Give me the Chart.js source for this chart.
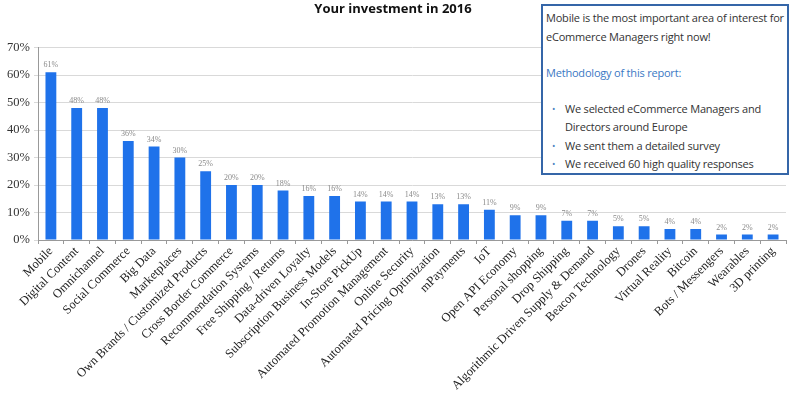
<!DOCTYPE html>
<html>
<head>
<meta charset="utf-8">
<script src="https://cdn.jsdelivr.net/npm/chart.js@4"></script>
<style>
  html, body { margin: 0; padding: 0; background: #fff; }
  #wrap { position: relative; width: 795px; height: 396px; }
  #note {
    position: absolute; left: 541px; top: 4px; width: 248px; height: 171px;
    border: 2px solid #3566a8; background: #fff;
    font-family: "Open Sans", sans-serif; font-size: 11px; color: #333;
    line-height: 18.5px; padding: 3px 0 0 3px; box-sizing: border-box;
    white-space: nowrap; letter-spacing: -0.2px;
  }
  #note .blue { color: #3a78c4; margin-top: 18px; }
  #note ul { margin: 17px 0 0 0; padding: 0 0 0 19px; list-style: none; }
  #note li { position: relative; }
  #note li:before { content: "\2022"; position: absolute; left: -13px; color: #4a7fc0; font-size: 9px; }
</style>
</head>
<body>
<div id="wrap">
  <canvas id="chart" width="795" height="396"></canvas>
  <div id="note">
    <div>Mobile is the most important area of interest for<br>eCommerce Managers right now!</div>
    <div class="blue">Methodology of this report:</div>
    <ul>
      <li>We selected eCommerce Managers and<br>Directors around Europe</li>
      <li>We sent them a detailed survey</li>
      <li>We received 60 high quality responses</li>
    </ul>
  </div>
</div>
<script>
const categories = ['Mobile', 'Digital Content', 'Omnichannel', 'Social Commerce', 'Big Data', 'Marketplaces',
  'Own Brands / Customized Products', 'Cross Border Commerce', 'Recommendation Systems', 'Free Shipping / Returns',
  'Data-driven Loyalty', 'Subscription Business Models', 'In-Store PickUp', 'Automated Promotion Management',
  'Online Security', 'Automated Pricing Optimization', 'mPayments', 'IoT', 'Open API Economy', 'Personal shopping',
  'Drop Shipping', 'Algorithmic Driven Supply & Demand', 'Beacon Technology', 'Drones', 'Virtual Reality', 'Bitcoin',
  'Bots / Messengers', 'Wearables', '3D printing'];
const investment = [61, 48, 48, 36, 34, 30, 25, 20, 20, 18, 16, 16, 14, 14, 14, 13, 13, 11, 9, 9, 7, 7, 5, 5, 4, 4, 2, 2, 2];
const yTicks = [0, 10, 20, 30, 40, 50, 60, 70];

// small grey % labels above bars
const valueLabels = {
  id: 'valueLabels',
  afterDatasetsDraw(chart) {
    const ctx = chart.ctx;
    const meta = chart.getDatasetMeta(0);
    ctx.save();
    ctx.font = '8px "Liberation Serif", serif';
    ctx.fillStyle = '#8a8a8a';
    ctx.textAlign = 'center';
    ctx.textBaseline = 'bottom';
    meta.data.forEach((bar, i) => {
      ctx.fillText(investment[i] + '%', bar.x, bar.y - 3);
    });
    ctx.restore();
  }
};

new Chart(document.getElementById('chart'), {
  type: 'bar',
  data: {
    labels: categories,
    datasets: [{
      data: investment,
      backgroundColor: '#1f72ea',
      barPercentage: 0.42,
      categoryPercentage: 1
    }]
  },
  options: {
    responsive: false,
    animation: false,
    layout: { padding: { left: 0, right: 9, top: 0, bottom: 0 } },
    plugins: {
      legend: { display: false },
      tooltip: { enabled: false },
      title: {
        display: true,
        text: 'Your investment in 2016',
        color: '#111',
        font: { family: '"Open Sans", sans-serif', size: 13, weight: 'bold' },
        padding: { top: 1, bottom: 31 }
      }
    },
    scales: {
      x: {
        grid: { drawOnChartArea: false, color: '#999', tickLength: 4, offset: true },
        border: { color: '#999' },
        ticks: {
          autoSkip: false,
          minRotation: 45,
          maxRotation: 45,
          color: '#222',
          padding: 0,
          font: { family: '"Liberation Serif", serif', size: 12.5 }
        },
        afterFit(scale) { scale.height = 156; }
      },
      y: {
        min: 0,
        max: 70,
        afterBuildTicks(scale) { scale.ticks = yTicks.map(v => ({ value: v })); },
        grid: { color: '#d9d9d9', tickLength: 4 },
        border: { color: '#999' },
        ticks: {
          color: '#333',
          padding: 4,
          font: { family: '"Liberation Serif", serif', size: 12.5 },
          callback: v => v + '%'
        },
        afterFit(scale) { scale.width = 38; }
      }
    }
  },
  plugins: [valueLabels]
});
</script>
</body>
</html>
